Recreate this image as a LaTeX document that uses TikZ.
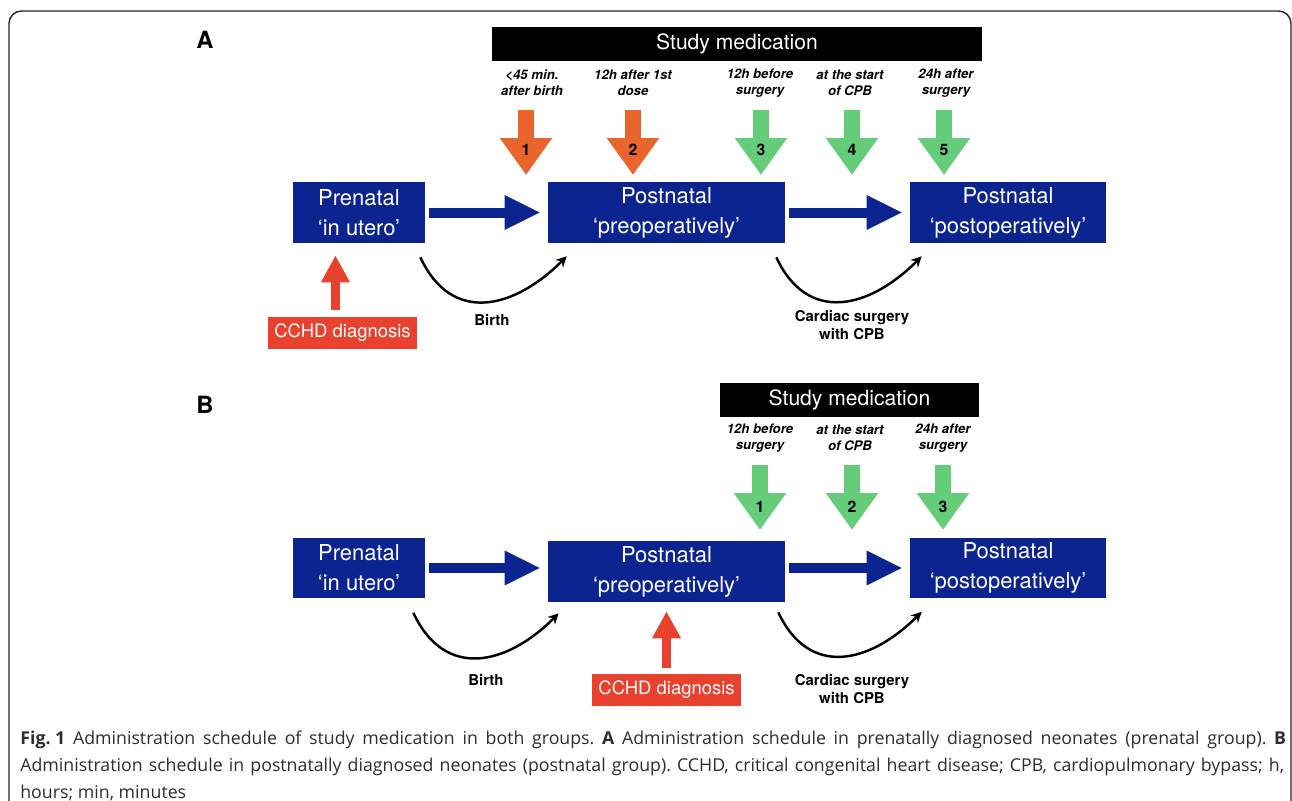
\documentclass[tikz,border=0pt]{standalone}
\usepackage{fontspec}
\setmainfont{TeX Gyre Heros}
\newfontfamily\capfont{Open Sans}
\usepackage{tikz}
\usetikzlibrary{arrows.meta}

\definecolor{boxblue}{RGB}{11,36,143}
\definecolor{doseorange}{RGB}{234,101,45}
\definecolor{dosegreen}{RGB}{101,205,122}
\definecolor{cchdred}{RGB}{232,65,46}
\definecolor{capgray}{RGB}{45,45,45}

\begin{document}
\begin{tikzpicture}[x=0.02cm, y=-0.02cm,
stage/.style={fill=boxblue, text=white, minimum height=1.22cm, inner sep=0pt, align=center, font=\fontsize{12.5}{17.2}\selectfont},
study/.style={fill=black, text=white, minimum height=0.68cm, inner sep=0pt, font=\fontsize{12}{14}\selectfont},
doselabel/.style={align=center, inner sep=0pt, font=\bfseries\itshape\fontsize{7.5}{9}\selectfont},
dosenum/.style={inner sep=0pt, font=\bfseries\fontsize{9}{10}\selectfont},
doseA/.style={draw=doseorange, line width=0.32cm, -{Triangle[length=0.74cm, width=1.0cm]}},
doseB/.style={draw=dosegreen, line width=0.32cm, -{Triangle[length=0.74cm, width=1.0cm]}},
flow/.style={draw=boxblue, line width=0.2cm, -{Triangle[length=0.72cm, width=0.64cm]}, shorten <=0.08cm, shorten >=0.14cm},
curvearrow/.style={line width=1.4pt, -{Stealth[length=6pt, width=6pt]}, looseness=1.3},
event/.style={align=center, inner sep=0pt, font=\bfseries\fontsize{8.5}{10.2}\selectfont},
cchd/.style={fill=cchdred, text=white, minimum width=2.98cm, minimum height=0.64cm, inner sep=0pt, font=\fontsize{10.5}{12}\selectfont},
diag/.style={draw=cchdred, line width=0.18cm, -{Triangle[length=0.54cm, width=0.54cm]}},
panel/.style={inner sep=0pt, font=\bfseries\fontsize{13.5}{15}\selectfont},
capline/.style={anchor=west, inner sep=0pt, text=capgray, font=\capfont\frenchspacing\fontsize{10.1}{12}\selectfont}]
\useasboundingbox (0,0) rectangle (1292,801);
\clip (0,0) rectangle (1292,801);
\draw[line width=0.8pt, gray!30!black, rounded corners=0.25cm] (9,840) -- (9,11) -- (1291,11) -- (1291,840);

% panel A
\node[panel] (A) at (205,40) {A};
\node[study, minimum width=9.8cm] (studyA) at (737,44) {Study medication};
\node[doselabel] (lA1) at (532,83) {\textless45 min.\\after birth};
\node[doselabel] (lA2) at (633,83) {12h after 1st\\dose};
\node[doselabel] (lA3) at (760,83) {12h before\\surgery};
\node[doselabel] (lA4) at (850,83) {at the start\\of CPB};
\node[doselabel] (lA5) at (946,83) {24h after\\surgery};
\draw[doseA] (526,110) -- (526,175);
\draw[doseA] (633,110) -- (633,175);
\draw[doseB] (761,110) -- (761,175);
\draw[doseB] (852,110) -- (852,175);
\draw[doseB] (944,110) -- (944,175);
\node[dosenum] (nA1) at (526,150) {1};
\node[dosenum] (nA2) at (633,150) {2};
\node[dosenum] (nA3) at (761,150) {3};
\node[dosenum] (nA4) at (852,150) {4};
\node[dosenum] (nA5) at (944,150) {5};
\node[stage, minimum width=2.64cm] (preA) at (359,212.5) {Prenatal\\‘in utero’};
\node[stage, minimum width=4.74cm] (preopA) at (666.5,212.5) {Postnatal\\‘preoperatively’};
\node[stage, minimum width=3.92cm] (postopA) at (1008,212.5) {Postnatal\\‘postoperatively’};
\draw[flow] (preA) -- (preopA);
\draw[flow] (preopA) -- (postopA);
\draw[curvearrow] ([shift={(-5,14)}]preA.south east) to[out=-65, in=-135] ([shift={(19,13)}]preopA.south west);
\draw[curvearrow] ([shift={(-9,14)}]preopA.south east) to[out=-65, in=-135] ([shift={(12,13)}]postopA.south west);
\node[event] (birthA) at (492,320) {Birth};
\node[event] (surgA) at (852,325) {Cardiac surgery\\with CPB};
\node[cchd] (cchdA) at (342.5,333) {CCHD diagnosis};
\draw[diag, shorten <=0.14cm, shorten >=0.24cm] ([xshift=-4]cchdA.north) -- ([xshift=-4]cchdA.north |- preA.south);

% panel B
\node[panel] (B) at (205,405) {B};
\node[study, minimum width=5.18cm] (studyB) at (849.5,400) {Study medication};
\node[doselabel] (lB1) at (760,438) {12h before\\surgery};
\node[doselabel] (lB2) at (850,438) {at the start\\of CPB};
\node[doselabel] (lB3) at (943,438) {24h after\\surgery};
\draw[doseB] (760,465) -- (760,530);
\draw[doseB] (852,465) -- (852,530);
\draw[doseB] (943,465) -- (943,530);
\node[dosenum] (nB1) at (760,507) {1};
\node[dosenum] (nB2) at (852,507) {2};
\node[dosenum] (nB3) at (943,507) {3};
\node[stage, minimum width=2.64cm] (preB) at (359,568) {Prenatal\\‘in utero’};
\node[stage, minimum width=4.74cm] (preopB) at (666.5,571.5) {Postnatal\\‘preoperatively’};
\node[stage, minimum width=3.92cm] (postopB) at (1008,568) {Postnatal\\‘postoperatively’};
\draw[flow] (preB.east) -- (preB.east -| preopB.west);
\draw[flow] (preopB.east |- postopB.west) -- (postopB.west);
\draw[curvearrow] ([shift={(-12,14)}]preB.south east) to[out=-65, in=-135] ([shift={(11,11)}]preopB.south west);
\draw[curvearrow] ([shift={(-7,10)}]preopB.south east) to[out=-65, in=-135] ([shift={(12,13)}]postopB.south west);
\node[event] (birthB) at (486,680) {Birth};
\node[event] (surgB) at (852,689) {Cardiac surgery\\with CPB};
\node[cchd] (cchdB) at (666.5,689.5) {CCHD diagnosis};
\draw[diag, shorten <=0.1cm, shorten >=0.18cm] (cchdB.north) -- (cchdB.north |- preopB.south);

% caption
\node[capline] (cap1) at (20,740) {\makebox[25.32cm][s]{\mbox{\textbf{Fig. 1}} Administration schedule of study medication in both groups. \textbf{A} Administration schedule in prenatally diagnosed neonates (prenatal group). \textbf{B}}};
\node[capline] (cap2) at (20,767) {\makebox[25.28cm][s]{Administration schedule in postnatally diagnosed neonates (postnatal group). CCHD, critical congenital heart disease; CPB, cardiopulmonary bypass; h,}};
\node[capline] (cap3) at (20,793) {hours; min, minutes};
\end{tikzpicture}
\end{document}
